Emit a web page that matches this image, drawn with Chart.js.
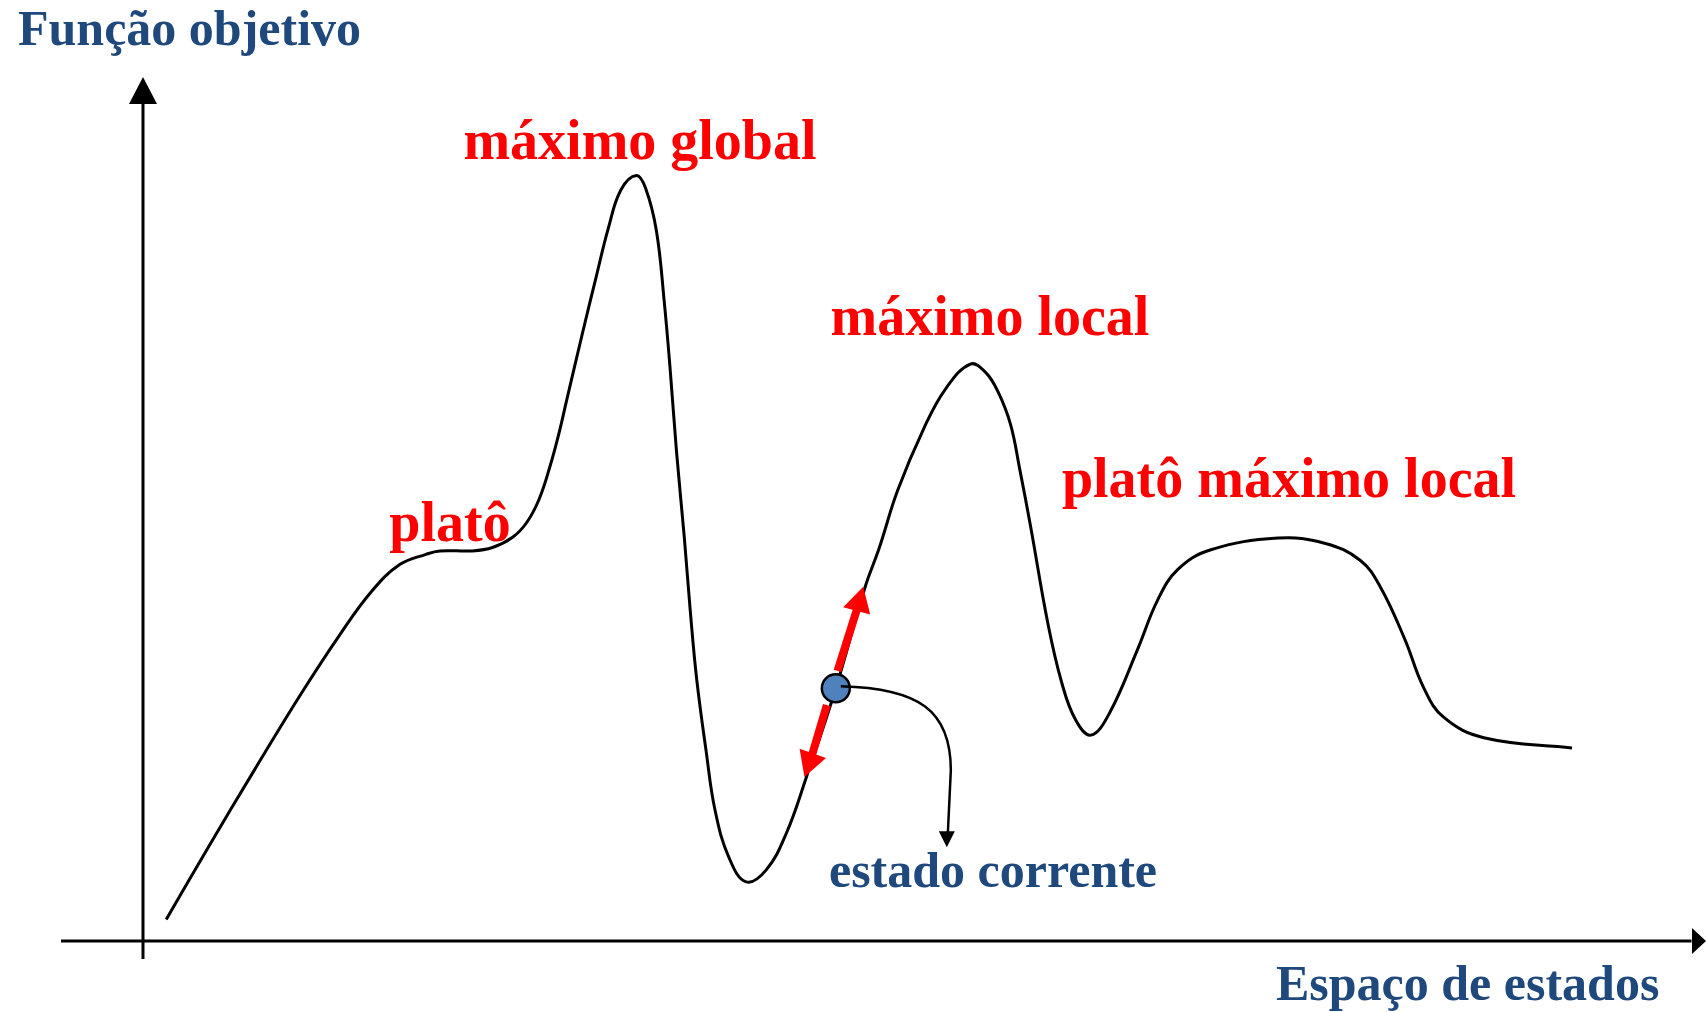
<!DOCTYPE html>
<html lang="pt">
<head>
  <meta charset="UTF-8" />
  <title>Espaço de estados - função objetivo</title>
  <script src="https://cdn.jsdelivr.net/npm/chart.js"></script>
  <style>
    html, body { margin: 0; padding: 0; background: #fff; }
    #wrap { width: 1706px; height: 1012px; }
  </style>
</head>
<body>
  <div id="wrap"><canvas id="landscape" width="1706" height="1012"></canvas></div>

  <script>
  // estados (eixo x) e valor da função objetivo (eixo y)
  const stateX = [1.5, 4.3, 7.2, 10.1, 12.7, 14.8, 16.6, 18.3, 19.2, 21.3, 22.6, 23.9, 24.8, 25.6, 26.3,
    26.9, 27.4, 28.4, 29.3, 30.1, 30.9, 31.9, 32.5, 33.2, 33.7, 34.1, 34.5, 35.0, 35.4, 35.8, 36.4, 37.0,
    37.9, 39.0, 40.3, 41.6, 42.9, 44.8, 46.7, 47.6, 48.8, 50.5, 51.9, 53.5, 54.5, 55.3, 56.1, 56.7, 57.4,
    58.5, 59.4, 60.3, 61.3, 62.5, 64.3, 65.6, 66.9, 69.0, 73.4, 76.4, 78.7, 80.0, 81.6, 82.8, 84.1,
    86.7, 92.4];
  const objective = [2.3, 11.0, 19.8, 28.4, 35.6, 40.8, 43.9, 45.1, 45.5, 45.5, 45.9, 47.1, 48.8, 51.5, 55.3,
    59.3, 63.2, 70.9, 77.6, 83.4, 87.8, 89.5, 88.0, 83.0, 74.8, 66.5, 57.1, 47.1, 38.2, 30.5, 22.2, 15.0,
    9.5, 6.7, 8.1, 12.4, 19.0, 29.4, 41.3, 45.8, 52.6, 59.9, 64.5, 67.4, 66.4, 64.1, 60.3, 55.0, 48.3,
    37.1, 30.1, 25.7, 23.9, 26.5, 33.9, 39.7, 43.3, 45.6, 47.0, 46.4, 44.4, 41.3, 35.1, 29.5, 26.0,
    23.6, 22.4];

  // estado corrente e seus vizinhos (índices na curva)
  const currentIdx = 37;
  const neighborIdx = [36, 38];

  const axisTitles = ['Função objetivo', 'Espaço de estados'];
  const peakLabels = ['máximo global', 'platô', 'máximo local', 'platô máximo local'];
  const currentLabel = 'estado corrente';

  const BLUE = '#1F497D';
  const RED = '#FF0000';
  const SERIF = '"Liberation Serif", "Times New Roman", serif';

  const curve = stateX.map((x, i) => ({ x: x, y: objective[i] }));

  function arrowHead(ctx, tx, ty, ang, len, half) {
    ctx.beginPath();
    ctx.moveTo(tx, ty);
    ctx.lineTo(tx - len * Math.cos(ang) + half * Math.sin(ang), ty - len * Math.sin(ang) - half * Math.cos(ang));
    ctx.lineTo(tx - len * Math.cos(ang) - half * Math.sin(ang), ty - len * Math.sin(ang) + half * Math.cos(ang));
    ctx.closePath();
    ctx.fill();
  }

  // eixos com setas, textos e setas vermelhas
  const landscapeDecor = {
    id: 'landscapeDecor',
    beforeDatasetsDraw(chart) {
      const { ctx, chartArea: a, scales } = chart;
      const x0 = scales.x.getPixelForValue(0);
      const y0 = scales.y.getPixelForValue(0) + 2;
      ctx.save();
      ctx.strokeStyle = '#000';
      ctx.fillStyle = '#000';
      ctx.lineWidth = 3;
      ctx.beginPath();
      ctx.moveTo(x0, y0 + 18);
      ctx.lineTo(x0, a.top + 14);
      ctx.moveTo(61, y0);
      ctx.lineTo(a.right + 2, y0);
      ctx.stroke();
      arrowHead(ctx, x0, a.top - 9, -Math.PI / 2, 27, 14);
      arrowHead(ctx, 1706, y0, 0, 14, 13);
      ctx.restore();
    },
    afterDatasetDraw(chart, args) {
      if (args.index !== 1) return;
      const { ctx, scales } = chart;
      const cx = scales.x.getPixelForValue(stateX[currentIdx]);
      const cy = scales.y.getPixelForValue(objective[currentIdx]);
      ctx.save();
      ctx.strokeStyle = RED;
      ctx.fillStyle = RED;
      ctx.lineWidth = 8;
      neighborIdx.forEach(i => {
        const tx = scales.x.getPixelForValue(stateX[i]) - 2;
        const ty = scales.y.getPixelForValue(objective[i]);
        const ang = Math.atan2(ty - cy, tx - cx);
        const len = Math.hypot(tx - cx, ty - cy);
        ctx.beginPath();
        ctx.moveTo(cx - 3 + 18 * Math.cos(ang), cy + 18 * Math.sin(ang));
        ctx.lineTo(cx + (len - 20) * Math.cos(ang), cy + (len - 20) * Math.sin(ang));
        ctx.stroke();
        arrowHead(ctx, tx, ty, ang, 25, 14);
      });
      ctx.restore();
    },
    afterDatasetsDraw(chart) {
      const { ctx, scales } = chart;
      const cx = scales.x.getPixelForValue(stateX[currentIdx]);
      const cy = scales.y.getPixelForValue(objective[currentIdx]);
      ctx.save();
      // ligação do estado corrente ao rótulo
      ctx.strokeStyle = '#000';
      ctx.fillStyle = '#000';
      ctx.lineWidth = 2.5;
      ctx.beginPath();
      ctx.moveTo(cx + 5, cy - 2);
      ctx.bezierCurveTo(cx + 83, cy, cx + 115, cy + 22, cx + 115, cy + 82);
      ctx.lineTo(cx + 112, cy + 145);
      ctx.stroke();
      arrowHead(ctx, cx + 111, cy + 159, Math.PI / 2, 16, 8);

      // textos
      ctx.textBaseline = 'alphabetic';
      ctx.fillStyle = BLUE;
      ctx.font = 'bold 50px ' + SERIF;
      ctx.textAlign = 'left';
      ctx.fillText(axisTitles[0], 18, 45);
      ctx.fillText(axisTitles[1], 1276, 1000);
      ctx.textAlign = 'center';
      ctx.fillText(currentLabel, 993, 887);

      ctx.fillStyle = RED;
      ctx.font = 'bold 56px ' + SERIF;
      ctx.fillText(peakLabels[0], 640, 159);
      ctx.fillText(peakLabels[1], 450, 541);
      ctx.fillText(peakLabels[2], 990, 335);
      ctx.fillText(peakLabels[3], 1289, 497);
      ctx.restore();
    }
  };

  new Chart(document.getElementById('landscape').getContext('2d'), {
    type: 'line',
    data: {
      datasets: [
        {
          // estado corrente (desenhado por cima)
          data: [{ x: stateX[currentIdx], y: objective[currentIdx] }],
          showLine: false,
          pointRadius: 14,
          pointBackgroundColor: '#4F81BD',
          pointBorderColor: '#000',
          pointBorderWidth: 2.5
        },
        {
          data: curve,
          borderColor: '#000',
          borderWidth: 3,
          pointRadius: 0,
          fill: false,
          tension: 0.4
        }
      ]
    },
    options: {
      responsive: false,
      animation: false,
      events: [],
      layout: { padding: { left: 143, right: 13, top: 86, bottom: 73 } },
      plugins: { legend: { display: false }, tooltip: { enabled: false } },
      scales: {
        x: { type: 'linear', min: 0, max: 100, display: false },
        y: { min: 0, max: 100, display: false }
      }
    },
    plugins: [landscapeDecor]
  });
  </script>
</body>
</html>
